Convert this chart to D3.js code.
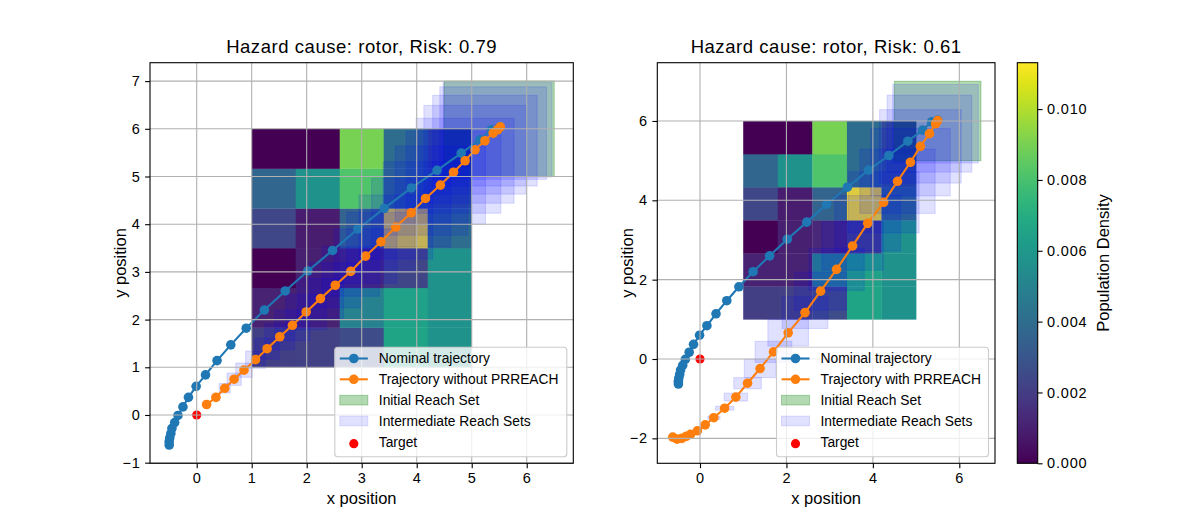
<!DOCTYPE html>
<html><head><meta charset="utf-8">
<script src="https://cdn.jsdelivr.net/npm/d3@7"></script>
<style>
body{margin:0;background:#fff;}
svg text{font-family:"Liberation Sans", Arial, Helvetica, sans-serif;fill:#000;}
</style>
</head><body>
<svg id="chart" width="1200" height="520"></svg>
<script>
// ---------------- DATA ----------------
const titles = ["Hazard cause: rotor, Risk: 0.79", "Hazard cause: rotor, Risk: 0.61"];
const trajLabels = ["Trajectory without PRREACH", "Trajectory with PRREACH"];
const legendLabels = ["Nominal trajectory", null, "Initial Reach Set", "Intermediate Reach Sets", "Target"];

// population density grid (cells), rows bottom -> top
const densityXEdges = [1.0, 1.8, 2.6, 3.4, 4.2, 5.0];
const densityYEdges = [1.0, 1.833, 2.667, 3.5, 4.333, 5.167, 6.0];
const density = [
  [0.0021, 0.0022, 0.0026, 0.0066, 0.0057],
  [0.0011, 0.0011, 0.0050, 0.0065, 0.0057],
  [0.0000, 0.0010, 0.0013, 0.0023, 0.0057],
  [0.0024, 0.0009, 0.0036, 0.0113, 0.0040],
  [0.0037, 0.0057, 0.0082, 0.0040, 0.0035],
  [0.0000, 0.0000, 0.0090, 0.0040, 0.0030]
];
const densityMax = 0.01131;
const colorbarTicks = [0, 0.002, 0.004, 0.006, 0.008, 0.010];

// nominal trajectory (same in both panels)
const nominalX = [5.50, 5.36, 5.15, 4.81, 4.37, 3.90, 3.41, 2.93, 2.47, 2.02, 1.61, 1.23, 0.90, 0.62, 0.37, 0.16, -0.01, -0.15, -0.25, -0.34, -0.40, -0.45, -0.47, -0.49, -0.50, -0.50];
const nominalY = [6.02, 5.98, 5.77, 5.49, 5.13, 4.76, 4.33, 3.90, 3.45, 3.02, 2.60, 2.20, 1.82, 1.47, 1.14, 0.84, 0.60, 0.37, 0.17, -0.01, -0.16, -0.28, -0.39, -0.48, -0.56, -0.63];

// left panel: trajectory without PRREACH
const leftTrajX = [5.52, 5.47, 5.39, 5.24, 5.06, 4.88, 4.67, 4.43, 4.16, 3.90, 3.62, 3.35, 3.07, 2.80, 2.52, 2.25, 1.99, 1.74, 1.51, 1.28, 1.07, 0.86, 0.68, 0.51, 0.35, 0.18];
const leftTrajY = [6.04, 5.98, 5.91, 5.75, 5.56, 5.33, 5.09, 4.82, 4.54, 4.24, 3.94, 3.63, 3.33, 3.01, 2.72, 2.44, 2.16, 1.88, 1.64, 1.39, 1.16, 0.94, 0.75, 0.56, 0.37, 0.22];
// half widths / heights of intermediate reach sets (steps 1..25)
const leftReachHalfW = [0.99, 0.97, 0.95, 0.93, 0.89, 0.86, 0.82, 0.77, 0.72, 0.67, 0.62, 0.57, 0.52, 0.47, 0.42, 0.37, 0.32, 0.27, 0.22, 0.18, 0.15, 0.13, 0.10, 0.07, 0.05];
const leftReachHalfH = [0.99, 0.97, 0.95, 0.93, 0.89, 0.86, 0.82, 0.77, 0.72, 0.67, 0.62, 0.57, 0.52, 0.47, 0.42, 0.37, 0.32, 0.27, 0.22, 0.18, 0.15, 0.13, 0.10, 0.07, 0.05];

// right panel: trajectory with PRREACH
const rightTrajX = [5.50, 5.45, 5.31, 5.10, 4.87, 4.57, 4.25, 3.88, 3.53, 3.16, 2.79, 2.43, 2.04, 1.70, 1.39, 1.10, 0.83, 0.57, 0.32, 0.12, -0.06, -0.22, -0.32, -0.42, -0.53, -0.63];
const rightTrajY = [6.01, 5.93, 5.68, 5.36, 4.96, 4.48, 3.95, 3.42, 2.85, 2.26, 1.71, 1.17, 0.66, 0.18, -0.24, -0.61, -0.96, -1.24, -1.48, -1.66, -1.81, -1.90, -1.95, -2.00, -2.02, -1.97];
const rightReachHalfW = [0.99, 0.98, 0.945, 0.92, 0.87, 0.82, 0.76, 0.71, 0.64, 0.60, 0.53, 0.47, 0.425, 0.365, 0.32, 0.27, 0.21, 0.14, 0.10, 0.08, 0.06, 0.05, 0.04, 0.03, 0.02];
const rightReachHalfH = [0.99, 0.97, 0.925, 0.85, 0.81, 0.77, 0.70, 0.61, 0.53, 0.48, 0.40, 0.335, 0.265, 0.23, 0.14, 0.10, 0.05, 0.04, 0.03, 0.02, 0.02, 0.02, 0.02, 0.02, 0.02];

// initial reach set [x0, x1, y0, y1]
const initialSetX = [4.5, 6.5];
const initialSetY = [5.0, 7.0];
const targetPoint = [0, 0];

const leftXTicks = [0, 1, 2, 3, 4, 5, 6];
const leftYTicks = [-1, 0, 1, 2, 3, 4, 5, 6, 7];
const rightXTicks = [0, 2, 4, 6];
const rightYTicks = [-2, 0, 2, 4, 6];

// ---------------- DRAW ----------------
const svg = d3.select("#chart");
const C_BLUE = "#1f77b4", C_ORANGE = "#ff7f0e";
const color = d3.scaleSequential(d3.interpolateViridis).domain([0, densityMax]);
const fmtTick = d3.format("d");
const MR = 4.8;

const panels = [
  {box:[150, 573.3, 62.7, 463.3], xdom:[-0.849, 6.847], ydom:[-1.013, 7.386],
   tx:leftTrajX, ty:leftTrajY, hw:leftReachHalfW, hh:leftReachHalfH,
   xticks:leftXTicks, yticks:leftYTicks, title:titles[0], tlabel:trajLabels[0], legW:232},
  {box:[657.3, 995, 62.7, 463.3], xdom:[-0.988, 6.826], ydom:[-2.629, 7.469],
   tx:rightTrajX, ty:rightTrajY, hw:rightReachHalfW, hh:rightReachHalfH,
   xticks:rightXTicks, yticks:rightYTicks, title:titles[1], tlabel:trajLabels[1], legW:212}
];

panels.forEach((p, pi) => {
  const [X0, X1, Y0, Y1] = p.box;
  const x = d3.scaleLinear().domain(p.xdom).range([X0, X1]);
  const y = d3.scaleLinear().domain(p.ydom).range([Y1, Y0]);
  const g = svg.append("g");
  const clipId = "clip" + pi;
  svg.append("clipPath").attr("id", clipId).append("rect")
    .attr("x", X0).attr("y", Y0).attr("width", X1 - X0).attr("height", Y1 - Y0);
  const data = g.append("g").attr("clip-path", `url(#${clipId})`);

  // heatmap
  const cells = [];
  density.forEach((row, ri) => row.forEach((v, ci) => cells.push({
    x0: densityXEdges[ci], x1: densityXEdges[ci + 1], y0: densityYEdges[ri], y1: densityYEdges[ri + 1], v})));
  data.append("g").selectAll("rect").data(cells).join("rect")
    .attr("x", d => x(d.x0)).attr("y", d => y(d.y1))
    .attr("width", d => x(d.x1) - x(d.x0) + 0.3).attr("height", d => y(d.y0) - y(d.y1) + 0.3)
    .attr("fill", d => color(d.v));

  // initial reach set
  data.append("rect")
    .attr("x", x(initialSetX[0])).attr("y", y(initialSetY[1]))
    .attr("width", x(initialSetX[1]) - x(initialSetX[0])).attr("height", y(initialSetY[0]) - y(initialSetY[1]))
    .attr("fill", "green").attr("fill-opacity", 0.3)
    .attr("stroke", "green").attr("stroke-opacity", 0.3).attr("stroke-width", 1.1);

  // intermediate reach sets
  const sets = p.hw.map((w, i) => ({cx: p.tx[i + 1], cy: p.ty[i + 1], w, h: p.hh[i]}));
  data.append("g").selectAll("rect").data(sets).join("rect")
    .attr("x", d => x(d.cx - d.w)).attr("y", d => y(d.cy + d.h))
    .attr("width", d => x(d.cx + d.w) - x(d.cx - d.w))
    .attr("height", d => y(d.cy - d.h) - y(d.cy + d.h))
    .attr("fill", "blue").attr("fill-opacity", 0.12)
    .attr("stroke", "blue").attr("stroke-opacity", 0.12).attr("stroke-width", 1.1);

  // grid
  const grid = g.append("g").attr("stroke", "#b0b0b0").attr("stroke-width", 1.1);
  p.xticks.forEach(t => grid.append("line").attr("x1", x(t)).attr("x2", x(t)).attr("y1", Y0).attr("y2", Y1));
  p.yticks.forEach(t => grid.append("line").attr("y1", y(t)).attr("y2", y(t)).attr("x1", X0).attr("x2", X1));

  // trajectories
  const line = d3.line().x(d => x(d[0])).y(d => y(d[1]));
  const nom = nominalX.map((v, i) => [v, nominalY[i]]);
  const trj = p.tx.map((v, i) => [v, p.ty[i]]);
  [[nom, C_BLUE], [trj, C_ORANGE]].forEach(([pts, c]) => {
    data.append("path").datum(pts).attr("d", line).attr("fill", "none")
      .attr("stroke", c).attr("stroke-width", 2.1).attr("stroke-linejoin", "round");
    data.append("g").selectAll("circle").data(pts).join("circle")
      .attr("cx", d => x(d[0])).attr("cy", d => y(d[1])).attr("r", MR).attr("fill", c);
  });
  data.append("circle").attr("cx", x(targetPoint[0])).attr("cy", y(targetPoint[1])).attr("r", 4.6).attr("fill", "#ff0000");

  // axes
  const xa = g.append("g").attr("transform", `translate(0,${Y1})`)
    .call(d3.axisBottom(x).tickValues(p.xticks).tickFormat(fmtTick).tickSize(4.9).tickPadding(4.5));
  const ya = g.append("g").attr("transform", `translate(${X0},0)`)
    .call(d3.axisLeft(y).tickValues(p.yticks).tickFormat(fmtTick).tickSize(4.9).tickPadding(4.5));
  [xa, ya].forEach(a => {
    a.select(".domain").remove();
    a.selectAll(".tick line").attr("stroke", "#000").attr("stroke-width", 1.1);
    a.selectAll(".tick text").attr("font-size", "14.5px").attr("letter-spacing", "0.8px")
      .attr("font-family", "Liberation Sans, Arial, sans-serif").attr("fill", "#000");
  });
  // frame
  g.append("rect").attr("x", X0).attr("y", Y0).attr("width", X1 - X0).attr("height", Y1 - Y0)
    .attr("fill", "none").attr("stroke", "#000").attr("stroke-width", 1.1);

  // labels
  const cx = (X0 + X1) / 2;
  g.append("text").attr("x", cx).attr("y", 53.3).attr("text-anchor", "middle")
    .attr("font-size", "18.5px").attr("letter-spacing", "0.55px").text(p.title);
  g.append("text").attr("x", cx).attr("y", 504).attr("text-anchor", "middle")
    .attr("font-size", "16.5px").text("x position");
  g.append("text").attr("transform", `translate(${X0 - 24},${(Y0 + Y1) / 2}) rotate(-90)`)
    .attr("text-anchor", "middle").attr("font-size", "16.5px").text("y position");

  // legend
  const LX = X1 - 6.5 - p.legW, LY = 347.3, LH = 109.4;
  const lg = g.append("g");
  lg.append("rect").attr("x", LX).attr("y", LY).attr("width", p.legW).attr("height", LH).attr("rx", 3)
    .attr("fill", "#fff").attr("fill-opacity", 0.8).attr("stroke", "#cccccc").attr("stroke-width", 1.1);
  const labels = legendLabels.map((l, i) => i === 1 ? p.tlabel : l);
  labels.forEach((lab, i) => {
    const ry = LY + 11.2 + i * 20.8;
    const hx0 = LX + 5, hx1 = LX + 33, hm = LX + 19;
    if (i < 2) {
      const c = i === 0 ? C_BLUE : C_ORANGE;
      lg.append("line").attr("x1", hx0).attr("x2", hx1).attr("y1", ry).attr("y2", ry)
        .attr("stroke", c).attr("stroke-width", 2.1);
      lg.append("circle").attr("cx", hm).attr("cy", ry).attr("r", MR).attr("fill", c);
    } else if (i === 2) {
      lg.append("rect").attr("x", hx0).attr("y", ry - 4.8).attr("width", hx1 - hx0).attr("height", 9.7)
        .attr("fill", "green").attr("fill-opacity", 0.3).attr("stroke", "green").attr("stroke-opacity", 0.3);
    } else if (i === 3) {
      lg.append("rect").attr("x", hx0).attr("y", ry - 4.8).attr("width", hx1 - hx0).attr("height", 9.7)
        .attr("fill", "blue").attr("fill-opacity", 0.12).attr("stroke", "blue").attr("stroke-opacity", 0.12);
    } else {
      lg.append("circle").attr("cx", hm).attr("cy", ry + 2).attr("r", 4.6).attr("fill", "#ff0000");
    }
    lg.append("text").attr("x", LX + 44).attr("y", ry).attr("dy", "0.35em")
      .attr("font-size", "13.8px").text(lab);
  });
});

// colorbar
const CB = {x0: 1017.3, x1: 1037.7, y0: 62.7, y1: 463.3};
const defs = svg.append("defs");
const grad = defs.append("linearGradient").attr("id", "vir").attr("x1", 0).attr("x2", 0).attr("y1", 1).attr("y2", 0);
d3.range(0, 1.0001, 0.05).forEach(t => grad.append("stop").attr("offset", t).attr("stop-color", d3.interpolateViridis(t)));
svg.append("rect").attr("x", CB.x0).attr("y", CB.y0).attr("width", CB.x1 - CB.x0).attr("height", CB.y1 - CB.y0)
  .attr("fill", "url(#vir)").attr("stroke", "#000").attr("stroke-width", 1.1);
const cy = d3.scaleLinear().domain([0, densityMax]).range([CB.y1, CB.y0]);
const ca = svg.append("g").attr("transform", `translate(${CB.x1},0)`)
  .call(d3.axisRight(cy).tickValues(colorbarTicks).tickFormat(d3.format(".3f")).tickSize(4.9).tickPadding(4.5));
ca.select(".domain").remove();
ca.selectAll(".tick line").attr("stroke", "#000").attr("stroke-width", 1.1);
ca.selectAll(".tick text").attr("font-size", "14.5px").attr("letter-spacing", "0.8px")
  .attr("font-family", "Liberation Sans, Arial, sans-serif").attr("fill", "#000");
svg.append("text").attr("transform", `translate(1109,${(CB.y0 + CB.y1) / 2}) rotate(-90)`)
  .attr("text-anchor", "middle").attr("font-size", "16.5px").text("Population Density");
</script>
</body></html>
